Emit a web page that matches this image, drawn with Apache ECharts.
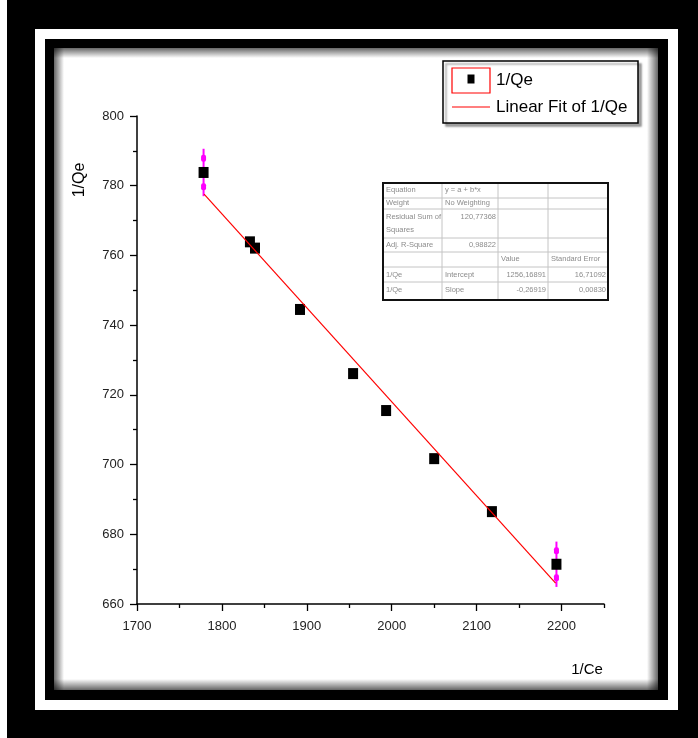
<!DOCTYPE html>
<html>
<head>
<meta charset="utf-8">
<script src="https://cdn.jsdelivr.net/npm/echarts@6/dist/echarts.min.js"></script>
<style>
  html, body { margin: 0; padding: 0; background: #000; }
  #chart { width: 698px; height: 738px; }
</style>
</head>
<body>
<div id="chart"></div>
<script>
// Linearised isotherm: 1/Qe plotted against 1/Ce
const invCe = [1778.4, 1833, 1839, 1892, 1954.5, 1993.4, 2050, 2118, 2194];
const invQe = [783.8, 763.9, 762.1, 744.5, 726.1, 715.5, 701.7, 686.5, 671.4];

// error bars shown on the two end points
const errX = [1778.4, 2194];
const errY = [783.8, 671.4];
const errHalf = [6.8, 6.5];

// straight-line fit, drawn between its end points
const fitX = [1779, 2193];
const fitY = [777.6, 666.0];

// axis ticks
const xTicks = [1700, 1800, 1900, 2000, 2100, 2200];
const xMinorTicks = [1750, 1850, 1950, 2050, 2150, 2250];

// fit summary table, row by row
const tableRow0 = ['Equation', 'y = a + b*x', '', ''];
const tableRow1 = ['Weight', 'No Weighting', '', ''];
const tableRow2 = ['Residual Sum of\nSquares', '120,77368', '', ''];
const tableRow3 = ['Adj. R-Square', '0,98822', '', ''];
const tableRow4 = ['', '', 'Value', 'Standard Error'];
const tableRow5 = ['1/Qe', 'Intercept', '1256,16891', '16,71092'];
const tableRow6 = ['1/Qe', 'Slope', '-0,26919', '0,00830'];

const FONT = '"Liberation Sans", Arial, sans-serif';

// ---- table layout ----
const tRows = [tableRow0, tableRow1, tableRow2, tableRow3, tableRow4, tableRow5, tableRow6];
const tColX = [383, 442, 498, 548, 608];
const tRowY = [183, 198, 209, 238, 252, 267, 282, 300];
const tTextY = [190, 203, 217, 245, 259, 275, 290];

function buildTable() {
  const els = [];
  els.push({ type: 'rect', z: 100,
    shape: { x: tColX[0], y: tRowY[0], width: tColX[4] - tColX[0], height: tRowY[7] - tRowY[0] },
    style: { fill: '#fff', stroke: null } });
  for (let i = 1; i < tRowY.length - 1; i++) {
    els.push({ type: 'line', z: 101,
      shape: { x1: tColX[0], y1: tRowY[i], x2: tColX[4], y2: tRowY[i] },
      style: { stroke: '#c4c4c4', lineWidth: 1 } });
  }
  for (let j = 1; j < tColX.length - 1; j++) {
    els.push({ type: 'line', z: 101,
      shape: { x1: tColX[j], y1: tRowY[0], x2: tColX[j], y2: tRowY[7] },
      style: { stroke: '#c4c4c4', lineWidth: 1 } });
  }
  els.push({ type: 'rect', z: 102,
    shape: { x: tColX[0], y: tRowY[0], width: tColX[4] - tColX[0], height: tRowY[7] - tRowY[0] },
    style: { fill: null, stroke: '#111', lineWidth: 2 } });

  tRows.forEach((row, r) => {
    row.forEach((txt, c) => {
      if (!txt) return;
      const numeric = /^-?[0-9][0-9,]*$/.test(txt);
      const lines = txt.split('\n');
      lines.forEach((ln, k) => {
        els.push({ type: 'text', z: 103,
          style: {
            text: ln,
            x: numeric ? tColX[c + 1] - 2 : tColX[c] + 3,
            y: tTextY[r] + k * 13,
            align: numeric ? 'right' : 'left',
            verticalAlign: 'middle',
            fill: '#8c8c8c',
            font: '7.5px ' + FONT
          } });
      });
    });
  });
  return els;
}

// ---- frame around the plot ----
function buildFrame() {
  const els = [];
  els.push({ type: 'rect', z: -10, shape: { x: 0, y: 0, width: 7, height: 738 }, style: { fill: '#fff' } });
  els.push({ type: 'rect', z: -10, shape: { x: 35, y: 29, width: 643, height: 681 }, style: { fill: '#fff' } });
  els.push({ type: 'rect', z: -9, shape: { x: 45, y: 39, width: 623, height: 661 }, style: { fill: '#000' } });
  els.push({ type: 'rect', z: -8, shape: { x: 54, y: 48, width: 604, height: 642 }, style: { fill: '#fff' } });
  const dark = 'rgba(0,0,0,0.6)', clear = 'rgba(0,0,0,0)';
  const grad = (x, y, x2, y2) => ({ type: 'linear', x: x, y: y, x2: x2, y2: y2,
    colorStops: [{ offset: 0, color: dark }, { offset: 1, color: clear }] });
  els.push({ type: 'rect', z: -7, shape: { x: 54, y: 48, width: 10, height: 642 }, style: { fill: grad(0, 0, 1, 0) } });
  els.push({ type: 'rect', z: -7, shape: { x: 54, y: 48, width: 604, height: 10 }, style: { fill: grad(0, 0, 0, 1) } });
  els.push({ type: 'rect', z: -7, shape: { x: 647, y: 48, width: 11, height: 642 }, style: { fill: grad(1, 0, 0, 0) } });
  els.push({ type: 'rect', z: -7, shape: { x: 54, y: 679, width: 604, height: 11 }, style: { fill: grad(0, 1, 0, 0) } });
  return els;
}

// ---- legend box ----
function buildLegend() {
  return [
    { type: 'rect', z: 100, shape: { x: 443, y: 61, width: 195, height: 62 },
      style: { fill: '#fff', stroke: '#000', lineWidth: 1.5,
        shadowColor: 'rgba(0,0,0,0.35)', shadowOffsetX: 3, shadowOffsetY: 3, shadowBlur: 2 } },
    { type: 'rect', z: 101, shape: { x: 452, y: 68, width: 38, height: 25 },
      style: { fill: null, stroke: '#ff0000', lineWidth: 1.2 } },
    { type: 'rect', z: 101, shape: { x: 467.5, y: 74.5, width: 7, height: 9 }, style: { fill: '#000' } },
    { type: 'text', z: 101, style: { text: '1/Qe', x: 496, y: 80, verticalAlign: 'middle',
      fill: '#000', font: '17px ' + FONT } },
    { type: 'line', z: 101, shape: { x1: 452, y1: 107, x2: 490, y2: 107 },
      style: { stroke: '#ff0000', lineWidth: 1.2 } },
    { type: 'text', z: 101, style: { text: 'Linear Fit of 1/Qe', x: 496, y: 107, verticalAlign: 'middle',
      fill: '#000', font: '17px ' + FONT } }
  ];
}

// ---- axis titles ----
function buildTitles() {
  return [
    { type: 'text', z: 50, x: 80, y: 180, rotation: Math.PI / 2,
      style: { text: '1/Qe', align: 'center', verticalAlign: 'middle', fill: '#000', font: '16px ' + FONT } },
    { type: 'text', z: 50, style: { text: '1/Ce', x: 587, y: 670, align: 'center', verticalAlign: 'middle',
      fill: '#000', font: '15px ' + FONT } }
  ];
}

const chart = echarts.init(document.getElementById('chart'), null, { renderer: 'canvas' });

const axisLineStyle = { color: '#000', width: 1.5 };
const tickStyle = { color: '#000', width: 1.3 };
const plain = v => String(v);

chart.setOption({
  animation: false,
  backgroundColor: '#000',
  grid: { left: 137, top: 116, right: 94, bottom: 134 },
  xAxis: [{
    type: 'value', min: 1700, max: 2250,
    axisLine: { show: true, onZero: false, lineStyle: axisLineStyle },
    axisTick: { show: true, length: 7, lineStyle: tickStyle, customValues: xTicks },
    axisLabel: { customValues: xTicks, formatter: plain, margin: 16, color: '#222', fontSize: 13, fontFamily: FONT },
    splitLine: { show: false }
  }, {
    type: 'value', min: 1700, max: 2250, position: 'bottom', gridIndex: 0,
    axisLine: { show: false },
    axisTick: { show: true, length: 4, lineStyle: tickStyle, customValues: xMinorTicks },
    axisLabel: { show: false },
    splitLine: { show: false }
  }],
  yAxis: {
    type: 'value', min: 660, max: 800, interval: 20,
    axisLine: { show: true, onZero: false, lineStyle: axisLineStyle },
    axisTick: { show: true, length: 7, lineStyle: tickStyle },
    minorTick: { show: true, splitNumber: 2, length: 4, lineStyle: tickStyle },
    axisLabel: { formatter: plain, margin: 13, color: '#222', fontSize: 13, fontFamily: FONT },
    splitLine: { show: false }
  },
  graphic: { elements: [].concat(buildFrame(), buildTitles(), buildLegend(), buildTable()) },
  series: [
    {
      name: 'error',
      type: 'custom',
      z: 2,
      silent: true,
      data: errX.map((x, i) => [x, errY[i], errHalf[i]]),
      renderItem: function (params, api) {
        const x = api.value(0), y = api.value(1), h = api.value(2);
        const top = api.coord([x, y + h]);
        const bot = api.coord([x, y - h]);
        const c1 = api.coord([x, y + h * 0.6]);
        const c2 = api.coord([x, y - h * 0.6]);
        const mag = '#ff00ff';
        return {
          type: 'group',
          children: [
            { type: 'line', shape: { x1: top[0], y1: top[1], x2: bot[0], y2: bot[1] },
              style: { stroke: mag, lineWidth: 2 } },
            { type: 'rect', shape: { x: c1[0] - 2.5, y: c1[1] - 3.5, width: 5, height: 7, r: 2 },
              style: { fill: mag } },
            { type: 'rect', shape: { x: c2[0] - 2.5, y: c2[1] - 3.5, width: 5, height: 7, r: 2 },
              style: { fill: mag } }
          ]
        };
      }
    },
    {
      name: '1/Qe',
      type: 'scatter',
      z: 3,
      silent: true,
      symbol: 'rect',
      symbolSize: [10, 11],
      itemStyle: { color: '#000', opacity: 1 },
      data: invCe.map((x, i) => [x, invQe[i]])
    },
    {
      name: 'Linear Fit of 1/Qe',
      type: 'line',
      z: 4,
      silent: true,
      showSymbol: false,
      lineStyle: { color: '#ff0000', width: 1.2 },
      data: fitX.map((x, i) => [x, fitY[i]])
    }
  ]
});
</script>
</body>
</html>
